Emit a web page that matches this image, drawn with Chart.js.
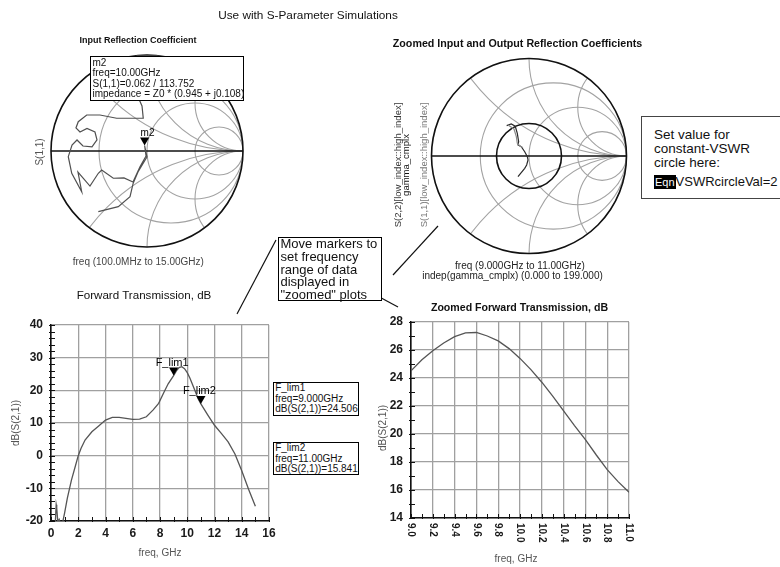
<!DOCTYPE html>
<html><head><meta charset="utf-8">
<script src="https://cdn.jsdelivr.net/npm/chart.js@4.4.1/dist/chart.umd.min.js"></script>
<style>
html,body{margin:0;padding:0;background:#fff;}
body{width:780px;height:567px;position:relative;overflow:hidden;font-family:'Liberation Sans',Arial,sans-serif;color:#111;}
canvas{position:absolute;left:0;top:0;}
.c{position:absolute;text-align:center;white-space:nowrap;width:400px;}
.r{position:absolute;white-space:nowrap;transform:translate(-50%,-50%) rotate(-90deg);}
.box{position:absolute;background:#fff;border:1.5px solid #000;box-sizing:border-box;white-space:nowrap;}
svg{position:absolute;left:0;top:0;}
</style></head><body>
<canvas id="smith1" width="780" height="567"></canvas>
<canvas id="smith2" width="780" height="567"></canvas>
<canvas id="fwd" width="780" height="567"></canvas>
<canvas id="zoom" width="780" height="567"></canvas>

<svg width="780" height="567">
  <line x1="276" y1="240" x2="237" y2="314" stroke="#111" stroke-width="1.2"/>
  <line x1="393" y1="275" x2="438" y2="226" stroke="#111" stroke-width="1.2"/>
  <line x1="372" y1="293" x2="398" y2="307" stroke="#111" stroke-width="1.2"/>
</svg>

<div class="c" style="left:108px;top:8px;font-size:11.8px;line-height:14px;">Use with S-Parameter Simulations</div>
<div class="c" style="left:-62px;top:34px;font-size:9px;font-weight:bold;line-height:12px;">Input Reflection Coefficient</div>
<div class="c" style="left:317.5px;top:36.5px;font-size:10.7px;font-weight:bold;line-height:12px;">Zoomed Input and Output Reflection Coefficients</div>
<div class="c" style="left:-61.7px;top:255.7px;font-size:10px;line-height:12px;color:#444;">freq (100.0MHz to 15.00GHz)</div>
<div class="r" style="left:39.3px;top:151.7px;font-size:10px;color:#555;">S(1,1)</div>
<div class="c" style="left:320px;top:260px;font-size:10px;line-height:12px;color:#222;">freq (9.000GHz to 11.00GHz)</div>
<div class="c" style="left:312.5px;top:270px;font-size:10px;line-height:12px;color:#222;">indep(gamma_cmplx) (0.000 to 199.000)</div>
<div class="r" style="left:397px;top:165px;font-size:9.5px;color:#333;">S(2,2)[low_index::high_index]</div>
<div class="r" style="left:405px;top:165px;font-size:9.5px;color:#111;">gamma_cmplx</div>
<div class="r" style="left:423px;top:165px;font-size:9.5px;color:#777;">S(1,1)[low_index::high_index]</div>
<div class="c" style="left:-56px;top:288px;font-size:11.6px;line-height:14px;">Forward Transmission, dB</div>
<div class="c" style="left:319.5px;top:300px;font-size:10.6px;font-weight:bold;line-height:14px;">Zoomed Forward Transmission, dB</div>
<div class="r" style="left:15px;top:423px;font-size:10px;color:#555;">dB(S(2,1))</div>
<div class="c" style="left:-40px;top:547px;font-size:10px;line-height:12px;color:#555;">freq, GHz</div>
<div class="r" style="left:382px;top:428px;font-size:10px;color:#555;">dB(S(2,1))</div>
<div class="c" style="left:316px;top:553px;font-size:10px;line-height:12px;color:#555;">freq, GHz</div>

<div class="box" style="left:90px;top:56px;width:154px;height:45px;font-size:10px;line-height:10.6px;padding:0.5px 0 0 1.5px;">m2<br>freq=10.00GHz<br>S(1,1)=0.062 / 113.752<br>impedance = Z0 * (0.945 + j0.108)</div>
<div class="box" style="left:272.7px;top:381.7px;width:86px;height:34.3px;font-size:10px;line-height:10.6px;padding:0.5px 0 0 1.5px;">F_lim1<br>freq=9.000GHz<br>dB(S(2,1))=24.506</div>
<div class="box" style="left:272.7px;top:441.7px;width:86px;height:33.3px;font-size:10px;line-height:10.6px;padding:0.5px 0 0 1.5px;">F_lim2<br>freq=11.00GHz<br>dB(S(2,1))=15.841</div>
<div class="box" style="left:278px;top:237px;width:104px;height:64px;font-size:13px;line-height:12.8px;padding:0 0 0 1.5px;">Move markers to<br>set frequency<br>range of data<br>displayed in<br>"zoomed" plots</div>
<div class="box" style="left:641px;top:116px;width:150px;height:83px;border:1px solid #444;font-size:13.5px;line-height:14px;padding:11px 0 0 12px;">Set value for<br>constant-VSWR<br>circle here:<div style="margin-top:5px;font-size:13px;"><span style="background:#000;color:#fff;font-size:11px;padding:1px 1px;">Eqn</span>VSWRcircleVal=2</div></div>

<script>
const family = "'Liberation Sans', Arial, sans-serif";

// ---- Smith chart 1: S(1,1), 100 MHz to 15 GHz (reflection coefficient, real / imaginary)
const s11Re = [0.25, 0.104, -0.104, -0.24, -0.135, -0.052, -0.039, -0.177, -0.316, -0.49, -0.628, -0.716, -0.74,
  -0.698, -0.625, -0.542, -0.521, -0.573, -0.667, -0.729, -0.781, -0.82, -0.784, -0.68, -0.719, -0.594, -0.507,
  -0.472, -0.351, -0.24, -0.146, -0.073, -0.01, -0.025, 0.0, -0.094, -0.143, -0.177, -0.299, -0.507];
const s11Im = [0.958, 0.99, 0.99, 0.865, 0.656, 0.469, 0.341, 0.341, 0.341, 0.375, 0.375, 0.305, 0.24,
  0.198, 0.234, 0.198, 0.115, 0.042, 0.052, 0.115, 0.063, -0.059, -0.232, -0.424, -0.219, -0.365, -0.232,
  -0.198, -0.284, -0.281, -0.323, -0.164, -0.052, 0.057, -0.0625, -0.219, -0.333, -0.476, -0.58, -0.632];
// marker m2 at 10 GHz: magnitude / angle (deg)
const m2Mag = 0.062, m2Ang = 113.752;

// ---- Smith chart 2: zoomed traces 9 to 11 GHz
const s22ZoomRe = [-0.229, -0.182, -0.141, -0.12, -0.106, -0.113, -0.079, -0.044, -0.017, -0.01, -0.024, -0.044, -0.113];
const s22ZoomIm = [0.311, 0.328, 0.305, 0.233, 0.147, 0.113, 0.095, 0.044, -0.007, -0.041, -0.092, -0.126, -0.212];
const s11ZoomRe = [-0.215, -0.154, -0.13, -0.12, -0.095, -0.062];
const s11ZoomIm = [0.318, 0.277, 0.198, 0.13, 0.106, 0.085];
const vswrCircleVal = 2;

// Smith grid: constant resistance circles and constant reactance arcs
const smithR = [1/3, 1, 3];
const smithX = [0.5, 1, 2, -0.5, -1, -2];

// ---- Forward transmission dB(S(2,1))
const fwdFreq = [0.1, 0.3, 0.38, 0.42, 0.5, 0.6, 0.72, 0.85, 1.0, 1.2, 1.5, 1.8, 2.0, 2.2, 2.5, 3.0, 3.5, 4.0, 4.5,
  5.0, 5.5, 6.0, 6.5, 7.0, 7.5, 7.9, 8.3, 8.6, 9.0, 9.2, 9.4, 9.6, 9.8, 10.0, 10.2, 10.4, 10.6, 10.8, 11.0,
  11.5, 12.0, 12.5, 13.0, 13.5, 14.0, 14.5, 15.0];
const fwdDb = [-24, -22, -15, -16, -20.3, -19.5, -21, -20.5, -17.5, -13, -7.5, -3, 0, 2.2, 4.8, 7.3, 9.1, 10.9, 11.7,
  11.7, 11.4, 11.1, 11.2, 11.9, 14, 16, 19.5, 22, 24.5, 25.95, 26.95, 27.25, 26.65, 25.4, 23.7, 21.65, 19.6, 17.45, 15.84,
  12.5, 9.3, 6.8, 4.2, 0.5, -4.6, -10.3, -15.5];
const fwdXTicks = [0, 2, 4, 6, 8, 10, 12, 14, 16];
const fwdYTicks = [-20, -10, 0, 10, 20, 30, 40];
const fLimNames = ['F_lim1', 'F_lim2'];
const fLimFreq = [9.0, 11.0];
const fLimDb = [24.506, 15.841];

// ---- Zoomed forward transmission
const zoomFreq = [9.0, 9.1, 9.2, 9.3, 9.4, 9.5, 9.6, 9.7, 9.8, 9.9, 10.0, 10.1, 10.2, 10.3, 10.4, 10.5, 10.6, 10.7, 10.8, 10.9, 11.0];
const zoomDb = [24.51, 25.3, 25.95, 26.5, 26.95, 27.22, 27.25, 27.0, 26.65, 26.1, 25.4, 24.6, 23.7, 22.7, 21.65, 20.6, 19.6, 18.5, 17.45, 16.6, 15.84];
const zoomXTicks = ['9.0', '9.2', '9.4', '9.6', '9.8', '10.0', '10.2', '10.4', '10.6', '10.8', '11.0'];
const zoomYTicks = [14, 16, 18, 20, 22, 24, 26, 28];

const pts = (xs, ys) => xs.map((v, i) => ({x: v, y: ys[i]}));

const smithPlugin = {
  id: 'smith',
  beforeDatasetsDraw(chart, args, opts) {
    const ctx = chart.ctx, xs = chart.scales.x, ys = chart.scales.y;
    const X = v => xs.getPixelForValue(v), Y = v => ys.getPixelForValue(v);
    const R = X(1) - X(0), cx = X(0), cy = Y(0);
    ctx.save();
    ctx.beginPath(); ctx.arc(cx, cy, R, 0, Math.PI * 2); ctx.clip();
    ctx.strokeStyle = '#a3a3a3'; ctx.lineWidth = 1.1;
    smithR.forEach(r => { ctx.beginPath(); ctx.arc(X(r / (1 + r)), cy, R / (1 + r), 0, Math.PI * 2); ctx.stroke(); });
    smithX.forEach(x => { ctx.beginPath(); ctx.arc(X(1), Y(1 / x), R / Math.abs(x), 0, Math.PI * 2); ctx.stroke(); });
    ctx.restore();
    ctx.save();
    ctx.strokeStyle = '#111'; ctx.lineWidth = 1.6;
    ctx.beginPath(); ctx.arc(cx, cy, R, 0, Math.PI * 2); ctx.stroke();
    ctx.beginPath(); ctx.moveTo(X(-1), cy); ctx.lineTo(X(1), cy); ctx.stroke();
    if (opts && opts.vswr) {
      const g = (opts.vswr - 1) / (opts.vswr + 1);
      ctx.beginPath(); ctx.arc(cx, cy, g * R, 0, Math.PI * 2); ctx.stroke();
    }
    ctx.restore();
  }
};

const markerPlugin = {
  id: 'markers',
  afterDatasetsDraw(chart, args, opts) {
    const ctx = chart.ctx, xs = chart.scales.x, ys = chart.scales.y;
    (opts.items || []).forEach(m => {
      const px = xs.getPixelForValue(m.x), py = ys.getPixelForValue(m.y);
      ctx.save();
      ctx.fillStyle = '#000';
      ctx.beginPath(); ctx.moveTo(px, py); ctx.lineTo(px - 4.6, py - 8); ctx.lineTo(px + 4.6, py - 8); ctx.closePath(); ctx.fill();
      ctx.font = m.size + 'px ' + family;
      ctx.textAlign = 'left'; ctx.textBaseline = 'alphabetic';
      ctx.fillText(m.label, px + m.dx, py + m.dy);
      ctx.restore();
    });
  }
};

const minorTickPlugin = {
  id: 'minorTicks',
  afterDraw(chart, args, opts) {
    if (!opts || !opts.xStep) return;
    const ctx = chart.ctx, xs = chart.scales.x, ys = chart.scales.y, a = chart.chartArea;
    ctx.save(); ctx.strokeStyle = '#111'; ctx.lineWidth = 1;
    const nx = Math.round((xs.max - xs.min) / opts.xStep);
    for (let i = 0; i <= nx; i++) {
      const p = Math.round(xs.getPixelForValue(xs.min + i * opts.xStep)) + 0.5;
      ctx.beginPath(); ctx.moveTo(p, a.bottom + 1); ctx.lineTo(p, a.bottom - 4); ctx.stroke();
    }
    const ny = Math.round((ys.max - ys.min) / opts.yStep);
    for (let i = 0; i <= ny; i++) {
      const p = Math.round(ys.getPixelForValue(ys.min + i * opts.yStep)) + 0.5;
      ctx.beginPath(); ctx.moveTo(a.left - 2, p); ctx.lineTo(a.left + 4, p); ctx.stroke();
    }
    ctx.restore();
  }
};

const rotXLabels = {
  id: 'rotX',
  afterDraw(chart, args, opts) {
    if (!opts || !opts.labels) return;
    const ctx = chart.ctx, xs = chart.scales.x, a = chart.chartArea;
    ctx.save();
    ctx.font = 'bold 10px ' + family; ctx.fillStyle = '#1a1a1a';
    ctx.textAlign = 'left'; ctx.textBaseline = 'middle';
    opts.labels.forEach(lab => {
      const px = xs.getPixelForValue(parseFloat(lab));
      ctx.save(); ctx.translate(px, a.bottom + 5); ctx.rotate(Math.PI / 2); ctx.fillText(lab, 0, 0); ctx.restore();
    });
    ctx.restore();
  }
};

const baseOpts = {
  responsive: false, animation: false, events: [],
  plugins: {legend: {display: false}, tooltip: {enabled: false}}
};

function smithChart(id, datasets, pad, vswr, markers) {
  return new Chart(document.getElementById(id), {
    type: 'scatter',
    data: {datasets},
    options: Object.assign({}, baseOpts, {
      layout: {padding: pad},
      scales: {
        x: {type: 'linear', min: -1, max: 1, display: false},
        y: {type: 'linear', min: -1, max: 1, display: false}
      },
      plugins: {legend: {display: false}, tooltip: {enabled: false}, smith: {vswr: vswr}, markers: {items: markers}}
    }),
    plugins: [smithPlugin, markerPlugin]
  });
}

const m2Re = m2Mag * Math.cos(m2Ang * Math.PI / 180), m2Im = m2Mag * Math.sin(m2Ang * Math.PI / 180);

smithChart('smith1', [
  {data: pts(s11Re, s11Im), showLine: true, borderColor: '#505050', borderWidth: 1.2, pointRadius: 0}
], {left: 51, top: 55, right: 537, bottom: 320}, null,
  [{x: m2Re, y: m2Im, label: 'm2', dx: -4, dy: -10, size: 10}]);

smithChart('smith2', [
  {data: pts(s11ZoomRe, s11ZoomIm), showLine: true, borderColor: '#8a8a8a', borderWidth: 1.2, pointRadius: 0},
  {data: pts(s22ZoomRe, s22ZoomIm), showLine: true, borderColor: '#2a2a2a', borderWidth: 1.2, pointRadius: 0}
], {left: 431.5, top: 58.5, right: 153.5, bottom: 313.5}, vswrCircleVal, []);

function lineChart(id, xs, ys, cfg) {
  return new Chart(document.getElementById(id), {
    type: 'scatter',
    data: {datasets: [{data: pts(xs, ys), showLine: true, borderColor: '#555', borderWidth: 1.3, pointRadius: 0}]},
    options: Object.assign({}, baseOpts, {
      layout: {padding: cfg.pad},
      scales: {
        x: {type: 'linear', min: cfg.xMin, max: cfg.xMax,
          afterBuildTicks: s => { s.ticks = cfg.xTicks.map(v => ({value: v})); },
          afterFit: s => { s.height = cfg.xHeight; },
          grid: {color: '#a0a0a0', lineWidth: 1.3, drawTicks: false},
          border: {color: '#111', width: 1.6},
          ticks: {display: cfg.xTickDisplay, autoSkip: false, maxRotation: 0, padding: 5, color: '#1a1a1a',
            font: {family: family, size: 12, weight: 'bold'}}},
        y: {type: 'linear', min: cfg.yMin, max: cfg.yMax,
          afterBuildTicks: s => { s.ticks = cfg.yTicks.map(v => ({value: v})); },
          afterFit: s => { s.width = 40; },
          grid: {color: '#a0a0a0', lineWidth: 1.3, drawTicks: false},
          border: {color: '#111', width: 1.6},
          ticks: {padding: 8, color: '#1a1a1a', font: {family: family, size: 12, weight: 'bold'}}}
      },
      plugins: {legend: {display: false}, tooltip: {enabled: false},
        markers: {items: cfg.markers}, minorTicks: {xStep: cfg.xMinor, yStep: cfg.yMinor},
        rotX: {labels: cfg.rotLabels}}
    }),
    plugins: [markerPlugin, minorTickPlugin, rotXLabels]
  });
}

lineChart('fwd', fwdFreq, fwdDb, {
  pad: {left: 11, top: 325, right: 511, bottom: 24}, xHeight: 22, xTickDisplay: true,
  xMin: 0, xMax: 16, yMin: -20, yMax: 40, xTicks: fwdXTicks, yTicks: fwdYTicks, xMinor: 1, yMinor: 2,
  markers: fLimNames.map((n, i) => ({x: fLimFreq[i], y: fLimDb[i], label: n, dx: -18, dy: -10, size: 11})),
  rotLabels: null
});

lineChart('zoom', zoomFreq, zoomDb, {
  pad: {left: 371, top: 322, right: 151, bottom: 49}, xHeight: 0, xTickDisplay: false,
  xMin: 9.0, xMax: 11.0, yMin: 14, yMax: 28, xTicks: zoomXTicks.map(parseFloat), yTicks: zoomYTicks, xMinor: 0.1, yMinor: 1,
  markers: [], rotLabels: zoomXTicks
});
</script>
</body></html>
